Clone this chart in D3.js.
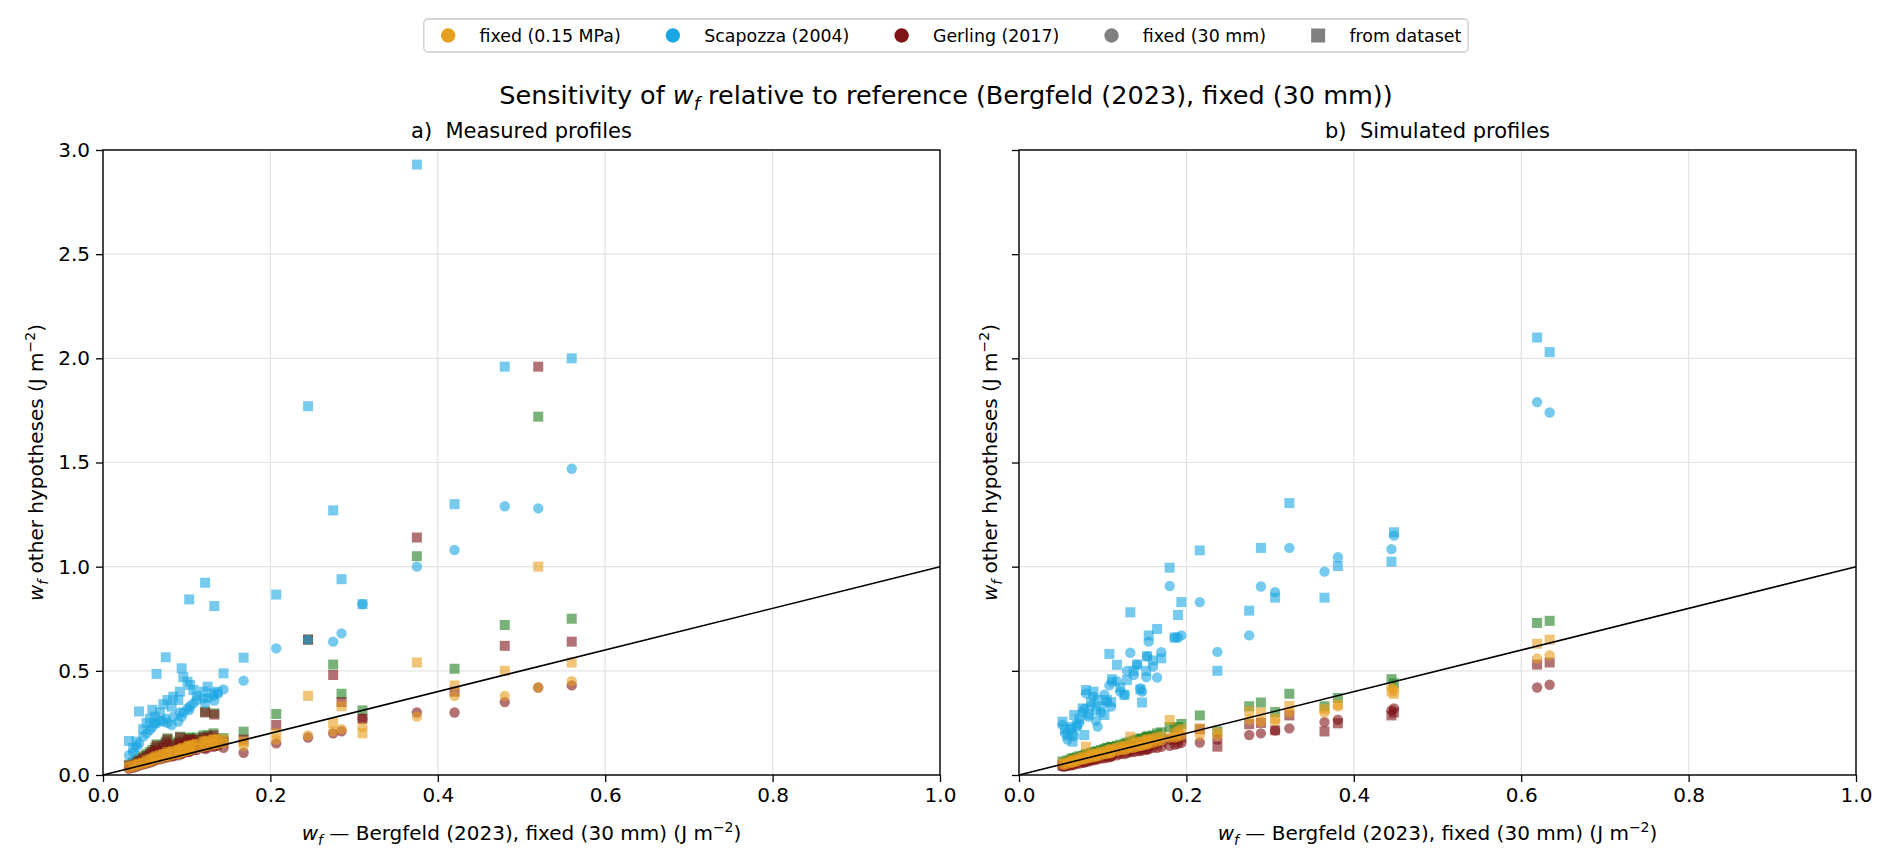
<!DOCTYPE html>
<html>
  <head>
    <title>Sensitivity of wf</title>
    <script src="https://d3js.org/d3.v7.min.js"></script>
    <style>
      body { margin: 0; background: #ffffff; }
      text { font-family: "DejaVu Sans", sans-serif; fill: #000; white-space: pre; }
    </style>
  </head>
  <body>
    <svg width="1892" height="864" id="mainsvg"></svg>
    <script>
        // ---- data ----
        // a) measured profiles: x = wf of the reference, one entry per profile
        const measX         = [0.031,0.036,0.040,0.043,0.048,0.052,0.056,0.059,0.062,0.064,0.068,0.072,0.075,0.077,0.082,0.084,0.090,0.092,0.094,0.096,0.101,0.103,0.104,0.108,0.112,0.120,0.122,0.125,0.132,0.133,0.137,0.144,0.168,0.207,0.245,0.275,0.285,0.310,0.375,0.420,0.480,0.520,0.560];
        const measBlueCirc  = [0.095,0.110,0.136,0.150,0.184,0.200,0.216,0.230,0.250,0.248,0.260,0.256,0.270,0.250,0.240,0.280,0.256,0.300,0.280,0.300,0.320,0.312,0.330,0.344,0.360,0.368,0.344,0.370,0.380,0.357,0.390,0.411,0.453,0.608,0.650,0.640,0.680,0.820,1.000,1.080,1.290,1.280,1.470];
        const measBlueSq    = [0.163,0.130,0.160,0.305,0.220,0.250,0.270,0.313,0.280,0.485,0.300,0.340,0.565,0.360,0.328,0.376,0.360,0.400,0.512,0.469,0.448,0.843,0.432,0.408,0.380,0.400,0.923,0.424,0.392,0.811,0.400,0.488,0.563,0.866,1.770,1.270,0.940,0.820,2.930,1.300,1.960,null,2.000];
        const measGreenSq   = [0.050,0.060,0.070,0.080,0.090,0.100,0.110,0.120,0.130,0.147,0.120,0.140,0.160,0.176,0.130,0.150,0.160,0.184,0.150,0.160,0.170,0.180,0.176,0.170,0.180,0.190,0.304,0.190,0.200,0.296,0.170,0.177,0.208,0.293,0.650,0.530,0.390,0.310,1.050,0.510,0.720,1.720,0.750];
        const measRedSq     = [0.045,0.050,0.060,0.070,0.080,0.090,0.100,0.110,0.120,0.140,0.110,0.130,0.150,0.170,0.120,0.140,0.150,0.180,0.140,0.150,0.160,0.170,0.170,0.160,0.170,0.180,0.300,0.180,0.190,0.290,0.160,0.160,0.170,0.240,0.650,0.480,0.350,0.270,1.140,0.400,0.620,1.960,0.640];
        const measOrangeSq  = [0.040,0.045,0.050,0.055,0.060,0.070,0.075,0.080,0.085,0.090,0.095,0.100,0.100,0.110,0.110,0.115,0.120,0.120,0.125,0.130,0.135,0.140,0.140,0.145,0.150,0.160,0.160,0.165,0.170,0.170,0.170,0.170,0.160,0.200,0.380,0.250,0.330,0.200,0.540,0.430,0.500,1.000,0.540];
        const measOrangeCirc= [0.035,0.040,0.045,0.050,0.055,0.060,0.065,0.070,0.075,0.080,0.080,0.085,0.090,0.090,0.095,0.100,0.100,0.105,0.110,0.110,0.115,0.120,0.120,0.125,0.130,0.135,0.140,0.140,0.145,0.150,0.150,0.155,0.140,0.170,0.190,0.210,0.220,0.230,0.280,0.380,0.380,0.420,0.450];
        const measRedCirc   = [0.030,0.035,0.040,0.045,0.050,0.055,0.060,0.065,0.070,0.075,0.075,0.080,0.085,0.085,0.090,0.090,0.095,0.100,0.100,0.105,0.110,0.110,0.115,0.120,0.120,0.130,0.125,0.130,0.135,0.140,0.140,0.130,0.107,0.152,0.180,0.200,0.210,0.270,0.300,0.300,0.350,0.420,0.430];

        // b) simulated profiles
        const simX          = [0.052,0.055,0.058,0.062,0.064,0.066,0.069,0.072,0.076,0.078,0.080,0.083,0.086,0.089,0.092,0.094,0.098,0.102,0.105,0.108,0.110,0.111,0.117,0.121,0.126,0.129,0.133,0.137,0.141,0.145,0.147,0.152,0.153,0.155,0.160,0.165,0.170,0.180,0.186,0.190,0.194,0.216,0.237,0.275,0.289,0.306,0.323,0.365,0.381,0.445,0.448,0.619,0.634];
        const simBlueCirc   = [0.240,0.200,0.170,0.220,0.200,0.187,0.232,0.250,0.300,0.317,0.392,0.280,0.330,0.376,0.260,0.232,0.300,0.385,0.352,0.430,0.328,0.448,0.450,0.400,0.385,0.500,0.587,0.480,0.530,0.415,0.400,0.470,0.570,0.640,0.520,0.468,0.590,0.907,0.660,0.660,0.670,0.830,0.591,0.670,0.905,0.878,1.090,0.976,1.045,1.084,1.149,1.790,1.740];
        const simBlueSq     = [0.256,0.220,0.190,0.230,0.160,0.288,0.240,0.270,0.320,0.192,0.408,0.290,0.350,0.400,0.310,0.360,0.330,0.288,0.360,0.581,0.350,0.460,0.529,0.420,0.385,0.456,0.781,0.500,0.530,0.410,0.348,0.500,0.570,0.670,0.550,0.701,0.560,0.995,0.660,0.768,0.830,1.078,0.500,0.789,1.090,0.851,1.305,0.851,1.003,1.024,1.165,2.100,2.030];
        const simGreenSq    = [0.065,0.060,0.070,0.075,0.080,0.080,0.085,0.090,0.090,0.095,0.100,0.100,0.105,0.110,0.110,0.115,0.120,0.125,0.130,0.130,0.135,0.135,0.140,0.145,0.150,0.155,0.160,0.165,0.170,0.175,0.175,0.180,0.185,0.185,0.190,0.200,0.205,0.230,0.225,0.230,0.245,0.286,0.210,0.330,0.348,0.302,0.390,0.330,0.370,0.460,0.440,0.730,0.740];
        const simRedSq      = [0.045,0.045,0.050,0.055,0.060,0.060,0.065,0.065,0.070,0.070,0.075,0.075,0.080,0.085,0.085,0.090,0.090,0.095,0.100,0.100,0.105,0.105,0.110,0.115,0.120,0.120,0.125,0.130,0.130,0.135,0.140,0.140,0.145,0.145,0.150,0.155,0.160,0.170,0.170,0.170,0.180,0.220,0.136,0.244,0.250,0.215,0.286,0.209,0.248,0.286,0.300,0.530,0.540];
        const simOrangeSq   = [0.055,0.055,0.060,0.065,0.070,0.070,0.075,0.080,0.085,0.085,0.136,0.090,0.095,0.100,0.100,0.105,0.110,0.110,0.115,0.120,0.120,0.125,0.130,0.135,0.140,0.140,0.184,0.150,0.155,0.160,0.160,0.165,0.170,0.170,0.175,0.180,0.185,0.264,0.200,0.210,0.220,0.224,0.203,0.307,0.300,0.270,0.332,0.317,0.338,0.400,0.390,0.630,0.650];
        const simOrangeCirc = [0.050,0.050,0.055,0.060,0.060,0.065,0.065,0.070,0.075,0.075,0.080,0.080,0.085,0.085,0.090,0.090,0.095,0.100,0.100,0.105,0.105,0.110,0.115,0.120,0.120,0.125,0.130,0.130,0.135,0.140,0.140,0.145,0.150,0.150,0.155,0.160,0.165,0.180,0.180,0.185,0.190,0.190,0.190,0.265,0.256,0.260,0.300,0.300,0.330,0.420,0.410,0.560,0.575];
        const simRedCirc    = [0.040,0.040,0.045,0.045,0.050,0.050,0.055,0.055,0.060,0.060,0.065,0.065,0.070,0.070,0.075,0.075,0.080,0.080,0.085,0.085,0.090,0.090,0.095,0.100,0.100,0.105,0.110,0.110,0.115,0.115,0.120,0.120,0.125,0.125,0.130,0.130,0.135,0.140,0.145,0.150,0.155,0.156,0.170,0.192,0.200,0.213,0.224,0.254,0.265,0.310,0.320,0.420,0.433];

        const xTicks = [0.0, 0.2, 0.4, 0.6, 0.8, 1.0];
        const yTicks = [0.0, 0.5, 1.0, 1.5, 2.0, 2.5, 3.0];
        const legendLabels = ['fixed (0.15 MPa)', 'Scapozza (2004)', 'Gerling (2017)', 'fixed (30 mm)', 'from dataset'];
        const legendColors = ['#e69f1e', '#1aa7e3', '#7f1417', '#808080', '#808080'];
        const legendShapes = ['circle', 'circle', 'circle', 'circle', 'square'];
        const panelTitles = ['a)  Measured profiles', 'b)  Simulated profiles'];

        // ---- layout ----
        const svg = d3.select('#mainsvg');
        const font = '"DejaVu Sans", sans-serif';
        const colOrange = '#e69f1e', colBlue = '#1aa7e3', colRed = '#7f1417', colGreen = '#1f7f1f';
        const plotTop = 150, plotBottom = 775;
        const panels = [
            {left: 103, right: 940, title: panelTitles[0], ylabels: true, labelOffset: 60,
             x: measX, series: [measGreenSq, measBlueSq, measRedSq, measOrangeSq, measBlueCirc, measRedCirc, measOrangeCirc]},
            {left: 1019, right: 1856, title: panelTitles[1], ylabels: false, labelOffset: 22,
             x: simX, series: [simGreenSq, simBlueSq, simRedSq, simOrangeSq, simBlueCirc, simRedCirc, simOrangeCirc]}
        ];
        // drawing order: squares first, circles on top
        const seriesStyle = [
            {color: colGreen, shape: 'square'},
            {color: colBlue, shape: 'square'},
            {color: colRed, shape: 'square'},
            {color: colOrange, shape: 'square'},
            {color: colBlue, shape: 'circle'},
            {color: colRed, shape: 'circle'},
            {color: colOrange, shape: 'circle'}
        ];

        // small helper for w_f / superscripts
        function richText(sel, parts, size) {
            parts.forEach(p => {
                const t = sel.append('tspan').text(p.t);
                if (p.italic) t.attr('font-style', 'italic');
                if (p.sub) t.attr('font-size', size * 0.7).attr('dy', size * 0.25);
                if (p.sup) t.attr('font-size', size * 0.7).attr('dy', -size * 0.4);
                if (p.back) t.attr('dy', p.back);
            });
            return sel;
        }
        const wfParts = [{t: 'w', italic: true}, {t: 'f', italic: true, sub: true}];

        panels.forEach(p => {
            const xScale = d3.scaleLinear().domain([0, 1]).range([p.left, p.right]);
            const yScale = d3.scaleLinear().domain([0, 3]).range([plotBottom, plotTop]);
            const g = svg.append('g');

            // grid
            g.selectAll('.vgrid').data(xTicks).enter().append('line')
                .attr('x1', d => xScale(d)).attr('x2', d => xScale(d))
                .attr('y1', plotTop).attr('y2', plotBottom)
                .attr('stroke', '#e3e3e3').attr('stroke-width', 1.2);
            g.selectAll('.hgrid').data(yTicks).enter().append('line')
                .attr('x1', p.left).attr('x2', p.right)
                .attr('y1', d => yScale(d)).attr('y2', d => yScale(d))
                .attr('stroke', '#e3e3e3').attr('stroke-width', 1.2);

            // points
            seriesStyle.forEach((s, i) => {
                const pts = p.x.map((xv, j) => ({x: xv, y: p.series[i][j]})).filter(d => d.y != null);
                if (s.shape === 'square') {
                    g.selectAll(null).data(pts).enter().append('rect')
                        .attr('x', d => xScale(d.x) - 5).attr('y', d => yScale(d.y) - 5)
                        .attr('width', 10).attr('height', 10)
                        .attr('fill', s.color).attr('fill-opacity', 0.6);
                } else {
                    g.selectAll(null).data(pts).enter().append('circle')
                        .attr('cx', d => xScale(d.x)).attr('cy', d => yScale(d.y))
                        .attr('r', 5.2)
                        .attr('fill', s.color).attr('fill-opacity', 0.6);
                }
            });

            // 1:1 line
            g.append('line')
                .attr('x1', xScale(0)).attr('y1', yScale(0))
                .attr('x2', xScale(1)).attr('y2', yScale(1))
                .attr('stroke', '#000').attr('stroke-width', 1.6);

            // axes
            const xAxis = d3.axisBottom(xScale).tickValues(xTicks).tickFormat(d3.format('.1f'))
                .tickSize(7).tickPadding(6);
            const xg = g.append('g').attr('transform', `translate(0, ${plotBottom})`).call(xAxis);
            const yAxis = d3.axisLeft(yScale).tickValues(yTicks)
                .tickFormat(p.ylabels ? d3.format('.1f') : '')
                .tickSize(7).tickPadding(6);
            const yg = g.append('g').attr('transform', `translate(${p.left}, 0)`).call(yAxis);
            [xg, yg].forEach(a => {
                a.selectAll('.domain').remove();
                a.selectAll('.tick line').attr('stroke', '#000').attr('stroke-width', 1.3);
                a.selectAll('.tick text').attr('font-size', 20).attr('font-family', font).attr('fill', '#000');
            });

            // frame
            g.append('rect')
                .attr('x', p.left).attr('y', plotTop)
                .attr('width', p.right - p.left).attr('height', plotBottom - plotTop)
                .attr('fill', 'none').attr('stroke', '#000').attr('stroke-width', 1.4);

            // panel title
            g.append('text')
                .attr('x', (p.left + p.right) / 2).attr('y', 138)
                .attr('text-anchor', 'middle').attr('font-size', 21)
                .text(p.title);

            // x label
            richText(g.append('text')
                .attr('x', (p.left + p.right) / 2).attr('y', 840)
                .attr('text-anchor', 'middle').attr('font-size', 20),
                wfParts.concat([{t: ' — Bergfeld (2023), fixed (30 mm) (J m', back: -20 * 0.25},
                                {t: '−2', sup: true}, {t: ')', back: 20 * 0.4}]), 20);

            // y label
            const ly = (plotTop + plotBottom) / 2;
            const lx = p.left - p.labelOffset;
            richText(g.append('text')
                .attr('transform', `translate(${lx}, ${ly}) rotate(-90)`)
                .attr('text-anchor', 'middle').attr('font-size', 20),
                wfParts.concat([{t: ' other hypotheses (J m', back: -20 * 0.25},
                                {t: '−2', sup: true}, {t: ')', back: 20 * 0.4}]), 20);
        });

        // suptitle
        richText(svg.append('text')
            .attr('x', 946).attr('y', 104)
            .attr('text-anchor', 'middle').attr('font-size', 25.5),
            [{t: 'Sensitivity of '}, {t: 'w', italic: true}, {t: 'f', italic: true, sub: true},
             {t: ' relative to reference (Bergfeld (2023), fixed (30 mm))', back: -25.5 * 0.25}], 25.5);

        // legend
        const lgFont = 17.4;
        const lg = svg.append('g');
        const box = lg.append('rect')
            .attr('y', 19).attr('height', 33).attr('rx', 4)
            .attr('fill', '#fff').attr('stroke', '#cccccc').attr('stroke-width', 1.3);
        let cx = 0;
        const items = [];
        legendLabels.forEach((lab, i) => {
            const it = lg.append('g');
            if (legendShapes[i] === 'circle') {
                it.append('circle').attr('cx', lgFont).attr('cy', 35.5).attr('r', 7.2).attr('fill', legendColors[i]);
            } else {
                it.append('rect').attr('x', lgFont - 7).attr('y', 28.5).attr('width', 14).attr('height', 14).attr('fill', legendColors[i]);
            }
            const t = it.append('text').attr('x', lgFont * 2.8).attr('y', 41.7)
                .attr('font-size', lgFont).text(lab);
            const w = lgFont * 2.8 + t.node().getComputedTextLength();
            items.push({g: it, w: w});
        });
        const totalW = d3.sum(items, d => d.w) + lgFont * 2.0 * (items.length - 1) + lgFont * 0.8;
        const startX = 946 - totalW / 2;
        box.attr('x', startX).attr('width', totalW);
        cx = startX + lgFont * 0.4;
        items.forEach(d => {
            d.g.attr('transform', `translate(${cx}, 0)`);
            cx += d.w + lgFont * 2.0;
        });
    </script>
  </body>
</html>
